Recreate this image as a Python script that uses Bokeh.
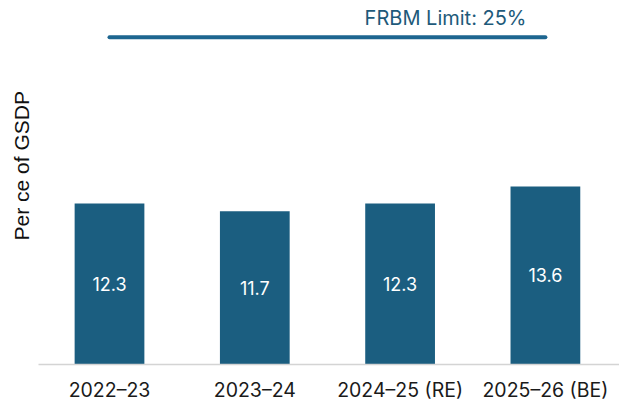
from bokeh.plotting import figure
from bokeh.models import Range1d, FixedTicker, ColumnDataSource, Title
from bokeh.core.properties import value
from bokeh.embed import file_html
from bokeh.resources import INLINE

categories = ["2022–23", "2023–24", "2024–25 (RE)", "2025–26 (BE)"]
values = [12.3, 11.7, 12.3, 13.6]
frbm_limit = 25
frbm_label = "FRBM Limit: 25%"
y_label = "Per ce of GSDP"

BAR = "#1b5e80"
LINE = "#1d6690"
FONT = "Inter"

idx = list(range(len(categories)))
src = ColumnDataSource(dict(
    x=idx,
    top=values,
    mid=[v / 2 for v in values],
    lab=[f"{v:.1f}" for v in values],
))

p = figure(width=619, height=404, output_backend="svg", toolbar_location=None,
           x_range=Range1d(-0.4887, 3.51), y_range=Range1d(0, 27.8),
           min_border_left=38, min_border_right=0, min_border_top=0,
           min_border_bottom=38)
p.outline_line_color = None
p.grid.visible = False
p.background_fill_color = "white"
p.border_fill_color = "white"

p.vbar(x="x", top="top", bottom=0, width=0.48, source=src,
       fill_color=BAR, line_color=None)
p.text(x="x", y="mid", text="lab", source=src, text_align="center",
       text_baseline="middle", text_color="white", text_font_size="18px",
       text_font=value(FONT))

p.line(x=[idx[0], idx[-1]], y=[frbm_limit, frbm_limit], line_color=LINE,
       line_width=4, line_cap="round")
p.text(x=[2.87], y=[frbm_limit], text=[frbm_label], text_align="right",
       text_baseline="bottom", y_offset=-7, text_color="#1e5a7a",
       text_font_size="20px", text_font=value(FONT))

xa = p.xaxis[0]
xa.ticker = FixedTicker(ticks=idx)
xa.major_label_overrides = {i: c for i, c in zip(idx, categories)}
xa.major_tick_line_color = None
xa.major_tick_out = 0
xa.major_tick_in = 0
xa.minor_tick_line_color = None
xa.minor_tick_out = 0
xa.axis_line_color = "#d4d4d4"
xa.axis_line_width = 1.5
xa.major_label_text_font = FONT
xa.major_label_text_font_size = "19.5px"
xa.major_label_text_color = "#1a1a1a"
xa.major_label_standoff = 13

p.yaxis.visible = False
ytitle = Title(text=y_label, align="left", offset=124, standoff=11,
               text_font="Liberation Sans", text_font_style="normal",
               text_font_size="21px", text_color="#111111")
p.add_layout(ytitle, "left")

open("out.html", "w").write(file_html(p, INLINE))
